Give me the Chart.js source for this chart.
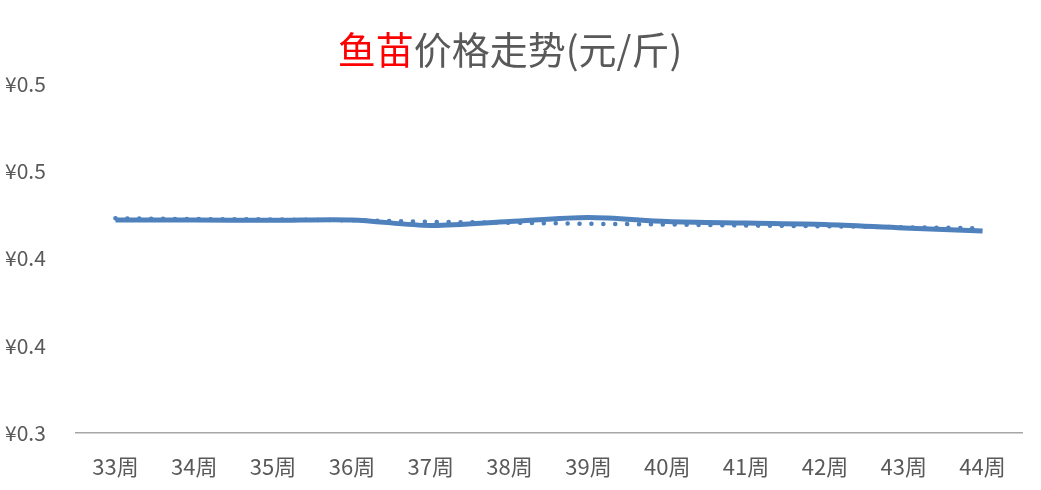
<!DOCTYPE html>
<html>
<head>
<meta charset="utf-8">
<script src="https://cdn.jsdelivr.net/npm/chart.js@4/dist/chart.umd.min.js"></script>
<style>
  html, body { margin: 0; padding: 0; background: #fff; }
  #wrap { width: 1041px; height: 490px; }
</style>
</head>
<body>
<div id="wrap"><canvas id="grafico" width="1041" height="490"></canvas></div>
<script>
// dados
const weeks = ['33周', '34周', '35周', '36周', '37周', '38周', '39周', '40周', '41周', '42周', '43周', '44周'];
const prices = [0.4221, 0.4221, 0.4219, 0.4221, 0.4189, 0.4212, 0.4235, 0.4212, 0.4203, 0.4195, 0.4175, 0.4158];
const trend = [0.4230, 0.4226, 0.4224, 0.4219, 0.4210, 0.4205, 0.4199, 0.4195, 0.4189, 0.4185, 0.4179, 0.4173];
const yTickLabels = ['¥0.3', '¥0.4', '¥0.4', '¥0.5', '¥0.5'];
const titleParts = [['鱼苗', '#ff0000'], ['价格走势(元/斤)', '#595959']];

const fonte = '"Noto Sans CJK SC", "Noto Sans", sans-serif';
const cinza = '#595959';
const azul = '#4f81bd';

// titulo em duas cores
const tituloPlugin = {
  id: 'tituloDuasCores',
  afterDraw(chart) {
    const ctx = chart.ctx;
    ctx.save();
    ctx.font = '38px ' + fonte;
    ctx.textBaseline = 'middle';
    ctx.textAlign = 'left';
    let total = 0;
    titleParts.forEach(p => { total += ctx.measureText(p[0]).width; });
    let x = 510 - total / 2;
    titleParts.forEach(p => {
      ctx.fillStyle = p[1];
      ctx.fillText(p[0], x, 50);
      x += ctx.measureText(p[0]).width;
    });
    ctx.restore();
  }
};

const ctx = document.getElementById('grafico').getContext('2d');
new Chart(ctx, {
  type: 'line',
  data: {
    labels: weeks,
    datasets: [{
      label: '价格',
      data: prices,
      borderColor: azul,
      borderWidth: 5,
      tension: 0.3,
      pointRadius: 0,
      fill: false,
      order: 0
    }, {
      label: '趋势',
      data: trend,
      borderColor: azul,
      borderWidth: 4.5,
      borderDash: [0.1, 11.8],
      borderCapStyle: 'round',
      pointRadius: 0,
      fill: false,
      order: 1
    }]
  },
  options: {
    responsive: false,
    animation: false,
    layout: { padding: { top: 84, left: 5, right: 19, bottom: 11 } },
    plugins: {
      legend: { display: false },
      title: { display: false },
      tooltip: { enabled: false }
    },
    scales: {
      x: {
        offset: true,
        grid: { display: false, drawTicks: false },
        border: { display: true, color: '#a6a6a6', width: 1.5 },
        afterFit(scale) { scale.height = 46; },
        ticks: { color: cinza, font: { family: fonte, size: 22 }, padding: 20, maxRotation: 0 }
      },
      y: {
        min: 0.3,
        max: 0.5,
        grid: { display: false, drawTicks: false },
        border: { display: false },
        afterFit(scale) { scale.width = 71; },
        ticks: {
          stepSize: 0.05,
          crossAlign: 'far',
          color: cinza,
          font: { family: fonte, size: 21 },
          callback: (v, i) => yTickLabels[i]
        }
      }
    }
  },
  plugins: [tituloPlugin]
});
</script>
</body>
</html>
